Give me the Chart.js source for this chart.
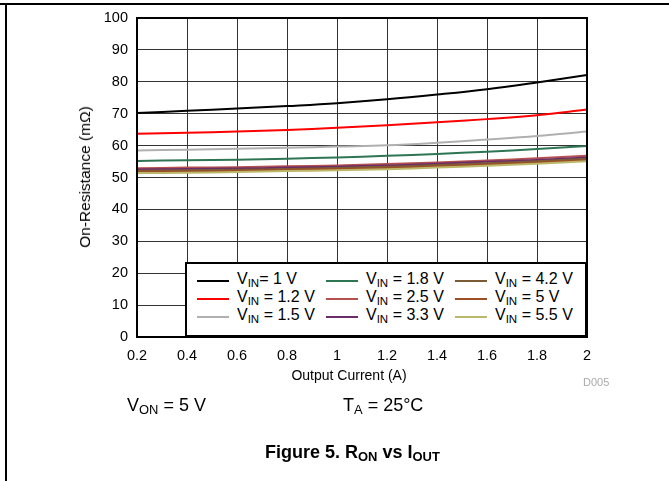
<!DOCTYPE html>
<html>
<head>
<meta charset="utf-8">
<script src="https://cdn.jsdelivr.net/npm/chart.js@4.4.1/dist/chart.umd.min.js"></script>
<style>
  body { margin: 0; background: #fff; font-family: "Liberation Sans", Arial, sans-serif; }
  #page { position: relative; width: 669px; height: 481px; overflow: hidden; }
  #frameTop { position: absolute; left: 0; top: 3px; width: 669px; height: 2px; background: #000; }
  #frameLeft { position: absolute; left: 5px; top: 3px; width: 2px; height: 478px; background: #000; }
  #chart { position: absolute; left: 0; top: 0; }
  .txt { position: absolute; white-space: nowrap; color: #000; }
  sub { font-size: 72%; vertical-align: -0.25em; line-height: 0; }
  #yTitle { left: 85px; top: 177px; font-size: 15.5px; transform: translate(-50%, -50%) rotate(-90deg); }
  #xTitle { left: 349px; top: 367px; font-size: 14px; transform: translateX(-50%); }
  #code { left: 583px; top: 376px; font-size: 11px; color: #aaa; }
  #legend { position: absolute; left: 185px; top: 262px; width: 398px; height: 71px; border: 2px solid #000; background: #fff; }
  .lg-line { position: absolute; width: 32px; height: 2px; }
  .lg-text { position: absolute; font-size: 16px; white-space: nowrap; }
  #von { left: 127px; top: 395px; font-size: 18px; }
  #ta { left: 343px; top: 395px; font-size: 18px; }
  #fig { left: 265px; top: 442px; font-size: 18px; font-weight: bold; }
</style>
</head>
<body>
<div id="page">
  <canvas id="chart" width="669" height="400"></canvas>
  <div id="frameTop"></div>
  <div id="frameLeft"></div>
  <div class="txt" id="yTitle">On-Resistance (mΩ)</div>
  <div class="txt" id="xTitle">Output Current (A)</div>
  <div class="txt" id="code">D005</div>
  <div id="legend"></div>
  <div class="txt" id="von">V<sub>ON</sub> = 5 V</div>
  <div class="txt" id="ta">T<sub>A</sub> = 25°C</div>
  <div class="txt" id="fig">Figure 5. R<sub>ON</sub> vs I<sub>OUT</sub></div>
</div>
<script>
// output current (A)
const current = [0.2, 0.4, 0.6, 0.8, 1.0, 1.2, 1.4, 1.6, 1.8, 2.0];

// on-resistance (mOhm) per input voltage
const vin1_0 = [70.2, 70.9, 71.6, 72.4, 73.3, 74.5, 76.0, 77.7, 79.8, 82.1];
const vin1_2 = [63.7, 64.0, 64.4, 64.9, 65.6, 66.4, 67.3, 68.3, 69.5, 71.3];
const vin1_5 = [58.5, 58.7, 59.0, 59.3, 59.7, 60.1, 60.9, 61.9, 63.0, 64.4];
const vin1_8 = [55.2, 55.4, 55.6, 55.9, 56.3, 56.8, 57.4, 58.1, 58.9, 59.9];
const vin2_5 = [52.9, 53.1, 53.2, 53.5, 53.8, 54.2, 54.7, 55.3, 56.0, 56.8];
const vin3_3 = [52.5, 52.7, 52.8, 53.1, 53.4, 53.8, 54.3, 54.9, 55.5, 56.3];
const vin4_2 = [52.1, 52.3, 52.4, 52.7, 53.0, 53.4, 53.9, 54.5, 55.1, 55.9];
const vin5_0 = [51.8, 51.9, 52.1, 52.4, 52.7, 53.0, 53.5, 54.1, 54.7, 55.5];
const vin5_5 = [51.4, 51.5, 51.7, 52.0, 52.3, 52.6, 53.1, 53.7, 54.3, 55.1];

const seriesLabels = ['1', '1.2', '1.5', '1.8', '2.5', '3.3', '4.2', '5', '5.5'];
const seriesValues = [vin1_0, vin1_2, vin1_5, vin1_8, vin2_5, vin3_3, vin4_2, vin5_0, vin5_5];
const seriesColors = ['#000000', '#ff0000', '#b0b0b0', '#2e7554', '#b5504e', '#6a2c6a', '#7b5a36', '#9c4f27', '#bcb86a'];

// ── CHART ─────────────────────────────────────────────────────
const datasets = seriesValues.map((vals, i) => ({
    label: 'VIN = ' + seriesLabels[i] + ' V',
    data: vals.map((v, k) => ({ x: current[k], y: v })),
    borderColor: seriesColors[i],
    borderWidth: 2,
    pointRadius: 0,
    tension: 0.4,
    fill: false
})).reverse();

const plotBorder = {
    id: 'plotBorder',
    afterDraw(chart) {
        const a = chart.chartArea, ctx = chart.ctx;
        ctx.save();
        ctx.strokeStyle = '#000';
        ctx.lineWidth = 2;
        ctx.strokeRect(a.left, a.top, a.right - a.left, a.bottom - a.top);
        ctx.restore();
    }
};

const tickFont = { family: '"Liberation Sans", Arial, sans-serif', size: 14.5 };

new Chart(document.getElementById('chart'), {
    type: 'line',
    data: { datasets },
    options: {
        responsive: false,
        animation: false,
        layout: { padding: { top: 18, right: 82, left: 0, bottom: 0 } },
        plugins: { legend: { display: false }, tooltip: { enabled: false } },
        scales: {
            x: {
                type: 'linear', min: 0.2, max: 2,
                ticks: {
                    stepSize: 0.2, color: '#000', font: tickFont, padding: 10, maxRotation: 0,
                    callback: v => String(Math.round(v * 10) / 10)
                },
                grid: { color: '#333', lineWidth: 1, drawTicks: false },
                border: { display: false },
                afterFit: s => { s.height = 63; }
            },
            y: {
                min: 0, max: 100,
                ticks: { stepSize: 10, color: '#000', font: tickFont, padding: 9 },
                grid: { color: '#333', lineWidth: 1, drawTicks: false },
                border: { display: false },
                afterFit: s => { s.width = 137; }
            }
        }
    },
    plugins: [plotBorder]
});

// ── LEGEND ────────────────────────────────────────────────────
const legend = document.getElementById('legend');
const colX = [10, 139, 268];
const rowY = [17, 35, 53];
seriesLabels.forEach((lab, n) => {
    const col = Math.floor(n / 3), row = n % 3;
    const line = document.createElement('div');
    line.className = 'lg-line';
    line.style.left = colX[col] + 'px';
    line.style.top = (rowY[row] - 1) + 'px';
    line.style.background = seriesColors[n];
    legend.appendChild(line);

    const text = document.createElement('div');
    text.className = 'lg-text';
    text.style.left = (colX[col] + 40) + 'px';
    text.style.top = (rowY[row] - 11) + 'px';
    const eq = n === 0 ? '= ' : ' = ';
    text.innerHTML = 'V<sub>IN</sub>' + eq + lab + ' V';
    legend.appendChild(text);
});
</script>
</body>
</html>
